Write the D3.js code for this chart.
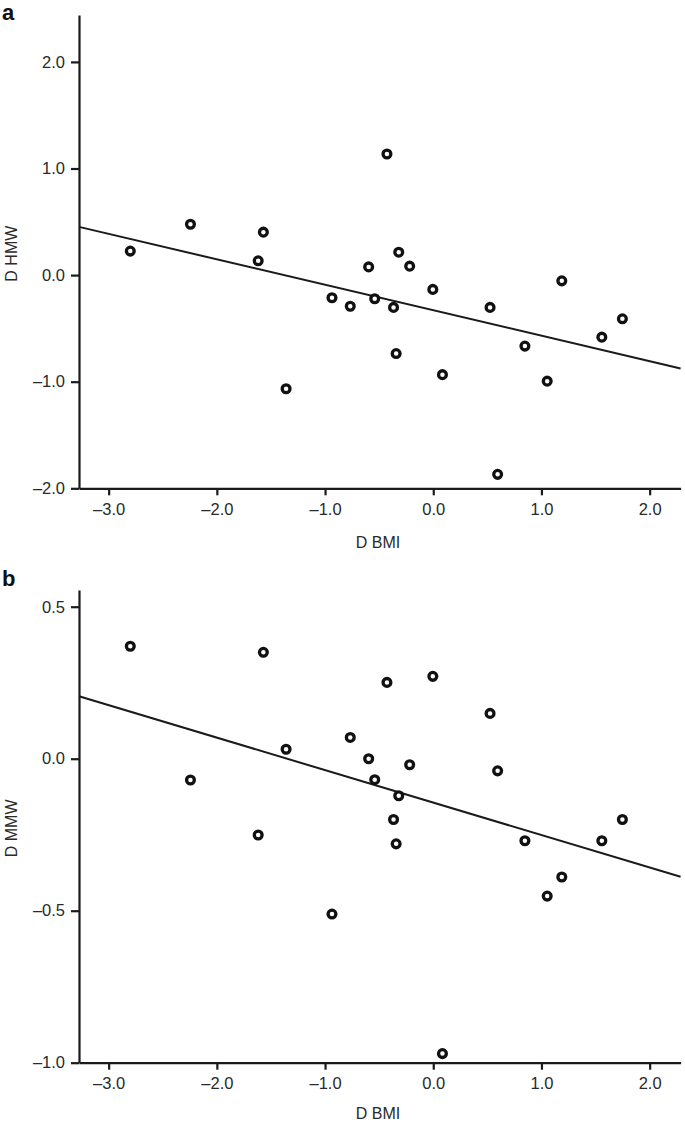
<!DOCTYPE html>
<html>
<head>
<meta charset="utf-8">
<script src="https://cdn.jsdelivr.net/npm/d3@7"></script>
<style>
  html, body { margin: 0; padding: 0; background: #fff; }
  svg { display: block; font-family: "Liberation Sans", Arial, Helvetica, sans-serif; }
</style>
</head>
<body>
<svg id="chart" width="685" height="1124"></svg>
<script>
// ---- Data ----
const dBMI = [-2.80, -2.244, -1.570, -1.618, -1.360, -0.936, -0.767, -0.597, -0.541, -0.428, -0.367, -0.319,
              -0.343, -0.218, -0.004, 0.085, 0.525, 0.595, 0.847, 1.053, 1.188, 1.558, 1.748];
const dHMW = [0.225, 0.477, 0.403, 0.134, -1.066, -0.212, -0.292, 0.077, -0.222, 1.136, -0.303, 0.215,
              -0.736, 0.084, -0.134, -0.934, -0.303, -1.869, -0.666, -0.995, -0.054, -0.582, -0.410];
const dMMW = [0.370, -0.070, 0.350, -0.251, 0.031, -0.511, 0.070, 0.000, -0.069, 0.251, -0.200, -0.122,
              -0.280, -0.020, 0.271, -0.970, 0.149, -0.040, -0.270, -0.452, -0.389, -0.270, -0.200];

const xTicks = [-3, -2, -1, 0, 1, 2];
const xTickLabels = ["\u20133.0", "\u20132.0", "\u20131.0", "0.0", "1.0", "2.0"];
const yTicksA = [-2, -1, 0, 1, 2];
const yTickLabelsA = ["\u20132.0", "\u20131.0", "0.0", "1.0", "2.0"];
const yTicksB = [-1, -0.5, 0, 0.5];
const yTickLabelsB = ["\u20131.0", "\u20130.5", "0.0", "0.5"];

const panels = [
  { letter: "a", ylabel: "D HMW", y: dHMW, yDomain: [-2.0, 2.44], top: 15, bottom: 488.3,
    yTicks: yTicksA, yTickLabels: yTickLabelsA, letterY: 20, titleY: 548 },
  { letter: "b", ylabel: "D MMW", y: dMMW, yDomain: [-1.0, 0.555], top: 590, bottom: 1062.7,
    yTicks: yTicksB, yTickLabels: yTickLabelsB, letterY: 586, titleY: 1119 }
];

const svg = d3.select("#chart");
const left = 79, right = 680.6;
const x = d3.scaleLinear().domain([-3.274, 2.286]).range([left, right]);

function ols(xs, ys) {
  const mx = d3.mean(xs), my = d3.mean(ys);
  let sxy = 0, sxx = 0;
  xs.forEach((v, i) => { sxy += (v - mx) * (ys[i] - my); sxx += (v - mx) * (v - mx); });
  const b = sxy / sxx;
  return { b, a: my - b * mx };
}

panels.forEach(p => {
  const g = svg.append("g");
  const y = d3.scaleLinear().domain(p.yDomain).range([p.bottom, p.top]);

  // panel letter
  g.append("text").attr("x", 2).attr("y", p.letterY)
    .attr("font-size", 22).attr("font-weight", "bold").attr("fill", "#111")
    .text(p.letter);

  // regression line
  const fit = ols(dBMI, p.y);
  const [x0, x1] = x.domain();
  g.append("line")
    .attr("x1", x(x0)).attr("y1", y(fit.a + fit.b * x0))
    .attr("x2", x(x1)).attr("y2", y(fit.a + fit.b * x1))
    .attr("stroke", "#1a1a1a").attr("stroke-width", 2);

  // x axis
  const xAxis = d3.axisBottom(x).tickValues(xTicks)
    .tickFormat((d, i) => xTickLabels[i]).tickSize(7).tickSizeOuter(0).tickPadding(8);
  const gx = g.append("g").attr("transform", `translate(0,${p.bottom})`).call(xAxis);
  gx.select(".domain").attr("stroke", "#1a1a1a").attr("stroke-width", 2.2);
  gx.selectAll(".tick line").attr("stroke", "#1a1a1a").attr("stroke-width", 2.2);
  gx.selectAll(".tick text").attr("font-size", 16.5).attr("fill", "#2a2a2a")
    .attr("font-family", "Liberation Sans, Arial, sans-serif");

  // y axis
  const yAxis = d3.axisLeft(y).tickValues(p.yTicks)
    .tickFormat((d, i) => p.yTickLabels[i]).tickSize(8).tickSizeOuter(0).tickPadding(6);
  const gy = g.append("g").attr("transform", `translate(${left},0)`).call(yAxis);
  gy.select(".domain").attr("stroke", "#1a1a1a").attr("stroke-width", 2.2);
  gy.selectAll(".tick line").attr("stroke", "#1a1a1a").attr("stroke-width", 2.2);
  gy.selectAll(".tick text").attr("font-size", 16.5).attr("fill", "#2a2a2a")
    .attr("font-family", "Liberation Sans, Arial, sans-serif");

  // axis titles
  g.append("text").attr("x", 378).attr("y", p.titleY)
    .attr("text-anchor", "middle").attr("font-size", 16).attr("fill", "#2a2a2a")
    .text("D BMI");
  g.append("text")
    .attr("transform", `translate(16.5,${(p.top + p.bottom) / 2 + 2}) rotate(-90)`)
    .attr("text-anchor", "middle").attr("font-size", 16).attr("fill", "#2a2a2a")
    .text(p.ylabel);

  // points
  g.selectAll("circle.pt").data(dBMI.map((v, i) => [v, p.y[i]]))
    .join("circle").attr("class", "pt")
    .attr("cx", d => x(d[0])).attr("cy", d => y(d[1])).attr("r", 3.9)
    .attr("fill", "#fff").attr("stroke", "#111").attr("stroke-width", 3.3);
});
</script>
</body>
</html>
